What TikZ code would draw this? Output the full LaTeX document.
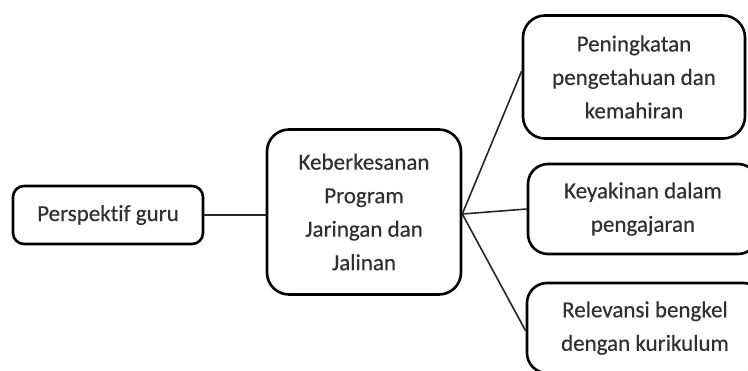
\documentclass[tikz,border=0pt]{standalone}
\usepackage{fontspec}
\setmainfont{Carlito}[Ligatures=NoCommon,FakeBold=0.35]
\definecolor{txt}{RGB}{48,48,48}
\begin{document}
\begin{tikzpicture}[x=1pt,y=-1pt,
  box/.style={draw=black,line width=2.6pt,fill=white,inner sep=0pt,align=center,
    text=txt,font=\fontsize{23}{33.5}\selectfont},
  link/.style={draw=black!85,line width=1.6pt}]
\useasboundingbox (0,0) rectangle (748,370);
\clip (0,0) rectangle (748,370);
\node[box,rounded corners=11pt,minimum width=190pt,minimum height=58pt] (guru) at (108,215) {Perspektif guru};
\node[box,rounded corners=22pt,minimum width=194pt,minimum height=165pt] (prog) at (364,212)
  {Keberkesanan\\Program\\Jaringan dan\\Jalinan};
\node[box,rounded corners=22pt,minimum width=222pt,minimum height=123pt] (ilmu) at (634,77)
  {Peningkatan\\pengetahuan dan\\kemahiran};
\node[box,rounded corners=20pt,minimum width=230pt,minimum height=90pt] (yakin) at (643,209)
  {Keyakinan dalam\\pengajaran};
\node[box,rounded corners=20pt,minimum width=236pt,minimum height=90pt] (bengkel) at (645,328)
  {Relevansi bengkel\\dengan kurikulum};
\coordinate (hub) at ([yshift=-2pt]prog.east);
\draw[link] (guru.east) -- (guru.east -| prog.west);
\draw[link] (hub) -- ([yshift=6pt]ilmu.west);
\draw[link] (hub) -- (yakin.west);
\draw[link] (hub) -- ([yshift=-3pt]bengkel.west);
\end{tikzpicture}
\end{document}
